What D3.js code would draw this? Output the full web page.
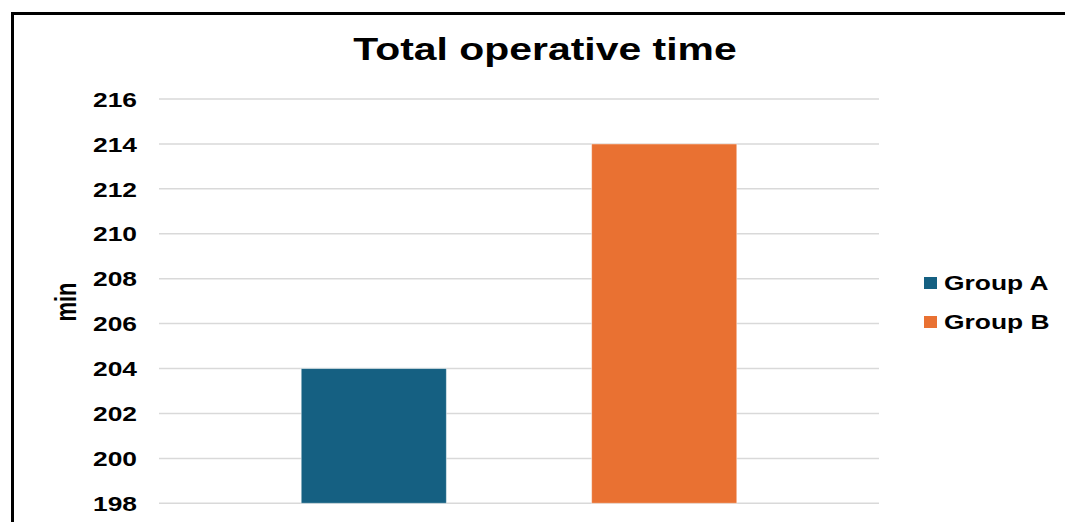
<!DOCTYPE html>
<html>
<head>
<meta charset="utf-8">
<script src="https://cdn.jsdelivr.net/npm/d3@7"></script>
<style>
  html, body { margin: 0; padding: 0; background: #fff; }
  svg { display: block; }
  text { font-family: "Liberation Sans", Arial, sans-serif; font-weight: bold; fill: #000; }
</style>
</head>
<body>
<svg id="chart" width="1065" height="522"></svg>
<script>
// Chart data
const groups = ["Group A", "Group B"];
const minutes = [204, 214];
const colors = ["#156082", "#E97132"];
const yTicks = [198, 200, 202, 204, 206, 208, 210, 212, 214, 216];
const titleText = "Total operative time";
const yLabel = "min";

const W = 1065, H = 522;
const svg = d3.select("#chart");
const stretch = 1.32; // wide lettering

// Outer frame (left and top edges)
svg.append("line").attr("x1", 12.5).attr("y1", 13.5).attr("x2", 12.5).attr("y2", H)
  .attr("stroke", "#000").attr("stroke-width", 3);
svg.append("line").attr("x1", 11).attr("y1", 13.5).attr("x2", W).attr("y2", 13.5)
  .attr("stroke", "#000").attr("stroke-width", 3);

const plot = { left: 159, right: 879, top: 99, bottom: 503.3 };

const y = d3.scaleLinear().domain([198, 216]).range([plot.bottom, plot.top]);
const x = d3.scaleBand().domain(groups).range([156, 882]).paddingInner(0.5).paddingOuter(0.5);

// Gridlines
svg.append("g").selectAll("line").data(yTicks).join("line")
  .attr("x1", plot.left).attr("x2", plot.right)
  .attr("y1", d => y(d)).attr("y2", d => y(d))
  .attr("stroke", "#d9d9d9").attr("stroke-width", 1.5);

// Y axis labels
const yAxis = d3.axisLeft(y).tickValues(yTicks).tickSize(0).tickPadding(0).tickFormat(d3.format("d"));
const ya = svg.append("g").attr("transform", "translate(137,0)").call(yAxis);
ya.select(".domain").remove();
ya.selectAll(".tick text")
  .attr("font-size", 20).attr("font-family", "Liberation Sans, Arial, sans-serif")
  .attr("font-weight", "bold").attr("fill", "#000")
  .attr("x", 0).attr("dy", "0.36em")
  .attr("transform", `scale(${stretch},1)`);

// Bars
svg.append("g").selectAll("rect").data(groups).join("rect")
  .attr("x", d => x(d))
  .attr("width", x.bandwidth())
  .attr("y", (d, i) => y(minutes[i]))
  .attr("height", (d, i) => y(198) - y(minutes[i]))
  .attr("fill", (d, i) => colors[i])
  .attr("stroke", "#ffffff").attr("stroke-opacity", 0.5).attr("stroke-width", 1);

// Title
svg.append("text")
  .attr("transform", `translate(545,60) scale(${stretch},1)`)
  .attr("text-anchor", "middle")
  .attr("font-size", 31)
  .text(titleText);

// Y axis title
svg.append("text")
  .attr("transform", `translate(76,302) rotate(-90) scale(1,${stretch})`)
  .attr("text-anchor", "middle")
  .attr("font-size", 22)
  .text(yLabel);

// Legend
const legend = svg.append("g").selectAll("g").data(groups).join("g")
  .attr("transform", (d, i) => `translate(924,${277 + i * 39})`);
legend.append("rect").attr("width", 13).attr("height", 12)
  .attr("fill", (d, i) => colors[i]);
legend.append("text")
  .attr("transform", `translate(20,13) scale(${stretch},1)`)
  .attr("font-size", 20)
  .text(d => d);
</script>
</body>
</html>
